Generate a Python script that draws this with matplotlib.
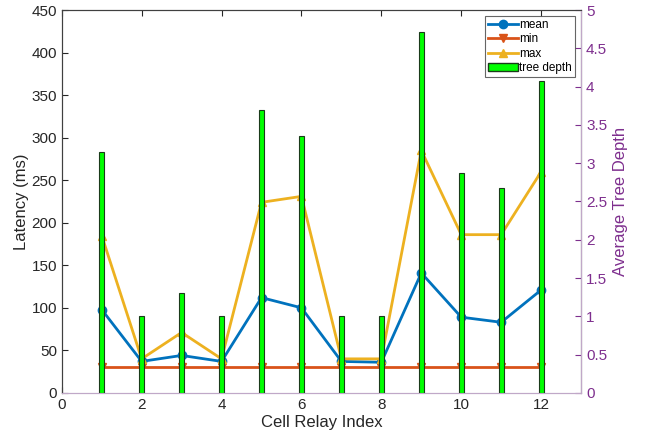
import numpy as np
import matplotlib
matplotlib.use("Agg")
import matplotlib.pyplot as plt
from matplotlib.patches import Patch
from matplotlib.lines import Line2D

plt.rcParams["font.family"] = ["Liberation Sans", "DejaVu Sans"]

# ── data ──
relay = [1, 2, 3, 4, 5, 6, 7, 8, 9, 10, 11, 12]
lat_mean = [98, 37, 44, 37, 112, 100, 37, 36, 141, 89, 83, 121]
lat_min = [31, 31, 31, 31, 31, 31, 31, 31, 31, 31, 31, 31]
lat_max = [185, 40, 71, 40, 224, 231, 40, 40, 285, 186, 186, 260]
tree_depth = [3.15, 1.0, 1.3, 1.0, 3.7, 3.35, 1.0, 1.0, 4.71, 2.875, 2.68, 4.08]

C_MEAN = "#0072BD"
C_MIN = "#D95319"
C_MAX = "#EDB120"
C_RIGHT = "#7E2F8E"
C_AX = "#404040"


def main():
    fig = plt.figure(figsize=(6.5, 4.38), dpi=100)
    ax1 = fig.add_axes([0.095, 0.103, 0.799, 0.874])

    ax1.plot(relay, lat_mean, color=C_MEAN, lw=2, marker="o", ms=6)
    ax1.plot(relay, lat_min, color=C_MIN, lw=2, marker="v", ms=6)
    ax1.plot(relay, lat_max, color=C_MAX, lw=2, marker="^", ms=6)

    ax1.set_xlim(0, 13)
    ax1.set_ylim(0, 450)
    ax1.set_xticks(range(0, 13, 2))
    ax1.set_yticks(range(0, 451, 50))
    ax1.set_xlabel("Cell Relay Index", fontsize=12, color="#262626",
                   labelpad=2)
    ax1.set_ylabel("Latency (ms)", fontsize=12, color="#262626", labelpad=2)
    ax1.tick_params(direction="in", top=True, labelsize=11, colors="#262626",
                    length=4)
    for s in ["left", "top"]:
        ax1.spines[s].set_color(C_AX)
    ax1.spines["bottom"].set_color("#C0A8C8")

    # ── right axis: tree depth bars ──
    ax2 = ax1.twinx()
    ax2.bar(relay, tree_depth, width=0.13, color="#00FF00",
            edgecolor="#1a3a1a", linewidth=0.8)
    ax2.set_ylim(0, 5)
    ax2.set_yticks(np.arange(0, 5.01, 0.5))
    ax2.set_yticklabels(["0", "0.5", "1", "1.5", "2", "2.5", "3", "3.5",
                         "4", "4.5", "5"])
    ax2.set_ylabel("Average Tree Depth", fontsize=12, color=C_RIGHT)
    ax2.tick_params(axis="y", direction="in", colors=C_RIGHT, labelsize=11,
                    length=4)
    ax2.spines["right"].set_color("#C0A8C8")
    ax2.spines["bottom"].set_color("#C0A8C8")
    ax2.spines["top"].set_color(C_AX)
    ax2.spines["left"].set_color(C_AX)

    handles = [
        Line2D([], [], color=C_MEAN, lw=2, marker="o", ms=6),
        Line2D([], [], color=C_MIN, lw=2, marker="v", ms=6),
        Line2D([], [], color=C_MAX, lw=2, marker="^", ms=6),
        Patch(facecolor="#00FF00", edgecolor="#1a3a1a"),
    ]
    leg = ax2.legend(handles, ["mean", "min", "max", "tree depth"],
                     loc="upper right", fontsize=8.5, fancybox=False,
                     borderpad=0.25, labelspacing=0.2, handlelength=2.5,
                     handletextpad=0.15, borderaxespad=0.5)
    leg.get_frame().set_edgecolor(C_AX)
    leg.get_frame().set_linewidth(0.8)

    fig.savefig("out.png", dpi=100)
    plt.close(fig)


if __name__ == "__main__":
    main()
